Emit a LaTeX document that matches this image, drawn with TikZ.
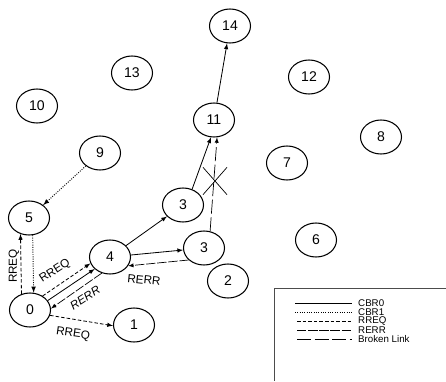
\documentclass[tikz,border=0pt]{standalone}
\usepackage{fontspec}
\setmainfont{Liberation Sans}
\usetikzlibrary{shapes.geometric,shapes.misc}
\tikzstyle{nd} = [ellipse,
                  draw=black,
                  line width=0.9pt,
                  inner sep=0pt,
                  minimum width=1.23cm,
                  minimum height=1.02cm,
                  font=\fontsize{12}{12}\selectfont]
\tikzstyle{cbr0} = [-latex, line width=0.7pt]
\tikzstyle{cbr1} = [-latex, line width=0.8pt, dash pattern=on 0.8pt off 1.2pt]
\tikzstyle{rreq} = [-latex, line width=0.7pt, dash pattern=on 3pt off 1.8pt]
\tikzstyle{rerr} = [-latex, line width=0.6pt, dash pattern=on 8pt off 1.5pt]
\tikzstyle{brk}  = [-latex, line width=0.6pt, dash pattern=on 12pt off 3pt]
\tikzstyle{lbl}  = [inner sep=0pt, font=\fontsize{10}{10}\selectfont]
\tikzstyle{leg}  = [anchor=west, inner sep=0pt, font=\fontsize{8.3}{8.3}\selectfont]

\begin{document}
\begin{tikzpicture}[x=0.03cm, y=-0.03cm]
  \useasboundingbox (0,0) rectangle (446,381);
  % nodes
  \node [nd] (n14) at (230,26) {14};
  \node [nd] (n13) at (132,73) {13};
  \node [nd] (n12) at (309,77) {12};
  \node [nd] (n10) at (37,106) {10};
  \node [nd] (n11) at (214,120) {11};
  \node [nd] (n8)  at (381,137) {8};
  \node [nd] (n9)  at (100,153) {9};
  \node [nd] (n7)  at (287,163) {7};
  \node [nd] (n3a) at (183,205) {3};
  \node [nd] (n5)  at (29,218) {5};
  \node [nd] (n6)  at (316,240) {6};
  \node [nd] (n3b) at (204,248) {3};
  \node [nd] (n4)  at (110,257) {4};
  \node [nd] (n2)  at (228,281) {2};
  \node [nd] (n0)  at (30,310) {0};
  \node [nd] (n1)  at (134,325) {1};
  % links
  \draw [cbr1] (n9) -- (n5);
  \draw [cbr1] (n5.282) -- (n0.78);
  \draw [rreq] (n0.118) -- (n5.242);
  \draw [rreq] (n0.48) -- (n4.198);
  \draw [cbr0] (n0.28) -- (n4.218);
  \draw [rerr] (n4.243) -- (n0.4);
  \draw [rreq] (n0.345) -- (n1.182);
  \draw [cbr0] (n4) -- (n3a);
  \draw [cbr0] (n4) -- (n3b);
  \draw [rerr] (n3b.218) -- (n4.334);
  \draw [cbr0] (n3a.60) -- (n11.260);
  \draw [brk]  (n3b.70) -- (n11.280);
  \draw [cbr0] (n11) -- (n14);
  \node [cross out, draw, line width=0.6pt, minimum width=0.7cm, minimum height=0.8cm] (cut) at (215,181) {};
  % labels
  \node [lbl, rotate=90] (q1) at (14,266) {RREQ};
  \node [lbl, rotate=33] (q2) at (55,271) {RREQ};
  \node [lbl, rotate=33] (e1) at (85,298) {\itshape RERR};
  \node [lbl, rotate=-6] (e2) at (144,280) {RERR};
  \node [lbl, rotate=-8] (q3) at (73,334) {RREQ};
  % legend
  \draw [black!70, line width=0.6pt] (446,288) -| (274,381);
  \coordinate (a1) at (295,303); \coordinate (b1) at (352,303);
  \coordinate (a2) at (295,312); \coordinate (b2) at (352,312);
  \coordinate (a3) at (297,321); \coordinate (b3) at (352,321);
  \coordinate (a4) at (297,330); \coordinate (b4) at (352,330);
  \coordinate (a5) at (297,339); \coordinate (b5) at (352,339);
  \draw [cbr0,-] (a1) -- (b1);
  \draw [cbr1,-] (a2) -- (b2);
  \draw [rreq,-] (a3) -- (b3);
  \draw [rerr,-] (a4) -- (b4);
  \draw [brk,-]  (a5) -- (b5);
  \node [leg] (t1) at (358,303) {CBR0};
  \node [leg] (t2) at (358,312) {CBR1};
  \node [leg] (t3) at (358,321) {RREQ};
  \node [leg] (t4) at (358,330) {RERR};
  \node [leg] (t5) at (358,339) {Broken Link};
\end{tikzpicture}
\end{document}
